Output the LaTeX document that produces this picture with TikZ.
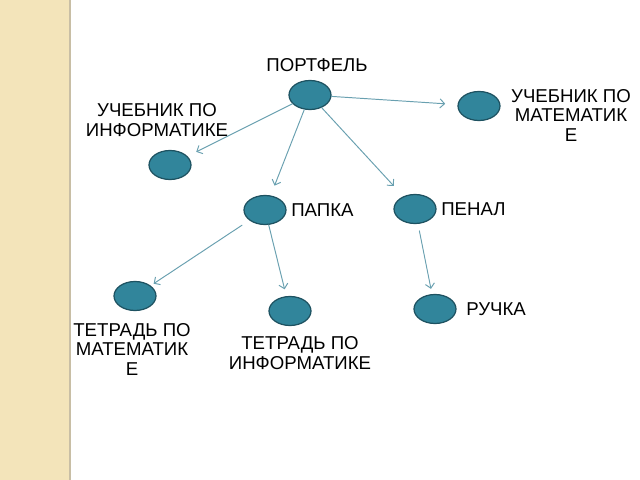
\documentclass[tikz,border=0pt]{standalone}
\usepackage{fontspec}
\setmainfont{Liberation Sans}
\usetikzlibrary{shapes.geometric,arrows.meta}
\definecolor{morskoj}{RGB}{49,133,155}
\definecolor{kraj}{RGB}{30,82,97}
\definecolor{strelka}{RGB}{105,160,176}
\definecolor{polosa}{RGB}{243,228,186}
\definecolor{kromka}{RGB}{200,190,165}
\begin{document}
\begin{tikzpicture}[x=0.02cm, y=-0.02cm, font=\fontsize{10.6}{11.1}\selectfont, line join=round, line cap=round, >={Straight Barb[length=2.6pt,width=5.2pt]}]
			\tikzset{kruzhok/.style={ellipse, draw=kraj, line width=0.7pt, fill=morskoj, minimum width=0.84cm, minimum height=0.58cm, inner sep=0pt}}
			\tikzset{nadpis/.style={align=center, inner sep=0pt}}
			\tikzset{svyaz/.style={draw=strelka, line width=0.55pt, ->}}
			\def \W{640}
			\def \H{480}
			\useasboundingbox (0,0) rectangle (\W,\H);
			\fill[polosa] (0,0) rectangle (69,\H);
			\draw[kromka, line width=1.2pt] (70,0)--(70,\H);
			
			\foreach \n/\x/\y in {port/310/95, um/479/106, ui/170/165, papka/265/210, penal/415/209, tm/135/296, ti/290/311, ruchka/435/309}
			\node[kruzhok] (\n) at (\x,\y) {};
			
			\node[nadpis] (port-t) at (317,65) {ПОРТФЕЛЬ};
			\node[nadpis] (ui-t) at (157,120) {УЧЕБНИК ПО\\ИНФОРМАТИКЕ};
			\node[nadpis] (um-t) at (571,115) {УЧЕБНИК ПО\\МАТЕМАТИК\\Е};
			\node[nadpis, anchor=west] (papka-t) at (291,210) {ПАПКА};
			\node[nadpis, anchor=west] (penal-t) at (441,209) {ПЕНАЛ};
			\node[nadpis, anchor=west] (ruchka-t) at (466,309) {РУЧКА};
			\node[nadpis] (tm-t) at (132,349) {ТЕТРАДЬ ПО\\МАТЕМАТИК\\Е};
			\node[nadpis] (ti-t) at (300,353) {ТЕТРАДЬ ПО\\ИНФОРМАТИКЕ};
			
			\draw[svyaz, shorten >=7pt] (port)--(um);
			\draw[svyaz, shorten >=5.5pt] (port)--(ui);
			\draw[svyaz, shorten >=6pt] (port)--(papka);
			\draw[svyaz, shorten >=8pt] (port)--(penal);
			\draw[svyaz, shorten <=5pt, shorten >=2pt] (papka)--(tm);
			\draw[svyaz, shorten >=4pt] (papka)--(ti);
			\draw[svyaz, shorten <=4pt, shorten >=3pt] (penal)--(ruchka);
		\end{tikzpicture}
\end{document}
